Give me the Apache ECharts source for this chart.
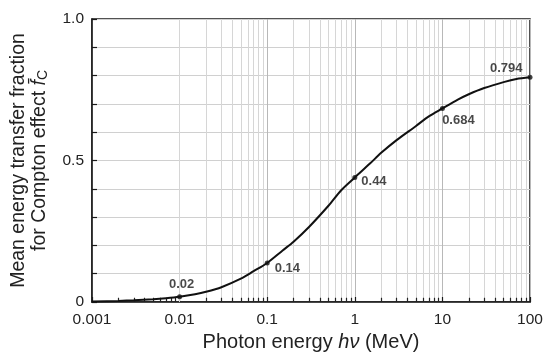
<!DOCTYPE html>
<html>
<head>
<meta charset="utf-8">
<script src="https://cdn.jsdelivr.net/npm/echarts@6/dist/echarts.min.js"></script>
<style>html,body{margin:0;padding:0;background:#fff;}#c{width:547px;height:359px;}</style>
</head>
<body>
<div id="c"></div>
<script>
// Photon energy (MeV)
var energies = [0.001,0.002,0.003,0.005,0.007,0.01,0.015,0.02,0.03,0.05,0.07,0.1,0.15,0.2,0.3,0.5,0.7,1,1.5,2,3,5,7,10,15,20,30,50,70,100];
// Mean energy transfer fraction for Compton effect
var fraction = [0.002,0.0039,0.0058,0.0096,0.0133,0.0187,0.0276,0.0361,0.0523,0.0824,0.109,0.138,0.182,0.213,0.265,0.340,0.395,0.440,0.490,0.527,0.572,0.622,0.656,0.684,0.715,0.734,0.756,0.777,0.788,0.794];
// Highlighted points
var markE = [0.01,0.1,1,10,100];
var markF = [0.0187,0.138,0.440,0.684,0.794];
var markText = ['0.02','0.14','0.44','0.684','0.794'];
// Axis tick labels
var xTickLabels = ['0.001','0.01','0.1','1','10','100'];
var yTickValues = [0,0.5,1];
var yTickLabels = ['0','0.5','1.0'];
var decades = [0.001,0.01,0.1,1,10];
var minorMult = [2,3,4,5,6,7,8,9];

var FONT = '"Liberation Sans", Arial, sans-serif';
var minorVals = [];
decades.forEach(function(d){ minorMult.forEach(function(m){ minorVals.push(+(m*d).toPrecision(3)); }); });

var gridLines = minorVals.map(function(v){ return {xAxis: v, lineStyle:{color:'#d6d6d6', width:1, type:'solid'}}; });
var tickSegs = minorVals.map(function(v){ return [{coord:[v,0], lineStyle:{color:'#222', width:1.2, type:'solid'}},{coord:[v,0.015]}]; });

var labelCfg = [
  {position:'top', distance:3, offset:[2,0]},
  {position:'right', distance:5, offset:[0,5]},
  {position:'right', distance:4, offset:[0,4]},
  {position:'bottom', distance:3, offset:[16,0]},
  {position:'left', distance:5, offset:[0,-9]}
];

var chart = echarts.init(document.getElementById('c'));
chart.setOption({
  animation:false,
  backgroundColor:'#fff',
  grid:{left:90,right:17,top:19,bottom:57,show:true,borderColor:'#1a1a1a',borderWidth:1.5,backgroundColor:'transparent'},
  xAxis:{
    type:'log', logBase:10, min:0.001, max:100,
    axisLine:{show:true,lineStyle:{color:'#1a1a1a',width:1.5}},
    axisTick:{show:true,inside:true,length:5,lineStyle:{color:'#1a1a1a',width:1.2}},
    axisLabel:{fontFamily:FONT,fontSize:15.5,color:'#222',margin:10,
      formatter:function(v){ var s = xTickLabels.filter(function(t){return Math.abs(parseFloat(t)-v)/v<1e-6;}); return s.length?s[0]:''; }},
    splitLine:{show:true,lineStyle:{color:'#b8b8b8',width:1}},
    name:'{a|Photon energy }{i|hν}{a| (MeV)}',
    nameLocation:'middle', nameGap:26,
    nameTextStyle:{rich:{a:{fontFamily:FONT,fontSize:20,color:'#222'},i:{fontFamily:FONT,fontSize:20,fontStyle:'italic',color:'#222'}}}
  },
  yAxis:{
    type:'value', min:0, max:1, interval:0.1,
    axisLine:{show:true,lineStyle:{color:'#1a1a1a',width:1.5}},
    axisTick:{show:true,inside:true,length:5,lineStyle:{color:'#1a1a1a',width:1.2}},
    axisLabel:{fontFamily:FONT,fontSize:15.5,color:'#222',margin:8,
      formatter:function(v){ for(var i=0;i<yTickValues.length;i++){ if(Math.abs(v-yTickValues[i])<1e-6) return yTickLabels[i]; } return ''; }},
    splitLine:{show:true,lineStyle:{color:'#d0d0d0',width:1}},
    name:'{a|Mean energy transfer fraction}\n{a|for Compton effect }{i|f̄}{s|C}',
    nameLocation:'middle', nameGap:42, nameRotate:90,
    nameTextStyle:{lineHeight:21,rich:{
      a:{fontFamily:FONT,fontSize:19.5,color:'#222',lineHeight:21},
      i:{fontFamily:FONT,fontSize:19.5,fontStyle:'italic',color:'#222',lineHeight:21},
      s:{fontFamily:FONT,fontSize:14,color:'#222',verticalAlign:'bottom',lineHeight:21}}}
  },
  series:[
    {type:'line', data:[[0.001,0]], showSymbol:false, lineStyle:{opacity:0}, z:1, silent:true,
      markLine:{silent:true, z:1, symbol:['none','none'], label:{show:false}, animation:false, data: gridLines.concat(tickSegs)}},
    {type:'line', data:energies.map(function(e,i){return [e,fraction[i]];}), smooth:0.3, showSymbol:false,
      lineStyle:{color:'#111',width:2}, z:3, silent:true},
    {type:'scatter', symbolSize:5, itemStyle:{color:'#111'}, z:4, silent:true,
      data:markE.map(function(e,i){ return {value:[e,markF[i]], label:Object.assign({show:true, formatter:markText[i], fontFamily:FONT, fontSize:13, fontWeight:'bold', color:'#1a1a1a', textBorderWidth:0, textBorderColor:'transparent'}, labelCfg[i])}; })}
  ]
});
</script>
</body>
</html>
